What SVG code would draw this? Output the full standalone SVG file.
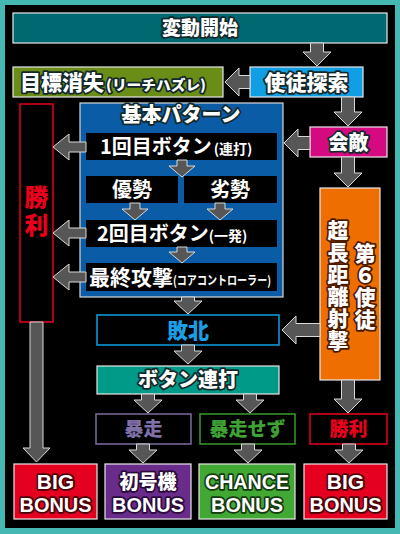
<svg xmlns="http://www.w3.org/2000/svg" width="400" height="534" viewBox="0 0 400 534">
<style>
.jp{font-family:"Noto Sans CJK JP","Noto Sans",sans-serif;font-weight:900;text-anchor:middle}
.en{font-family:"Liberation Sans",Arial,sans-serif;font-weight:700;text-anchor:middle}
.ol{fill:#fff;stroke:#13282a;stroke-width:3.5;stroke-linejoin:round;paint-order:stroke}
.w{fill:#fff;font-weight:700}
.box{stroke:#e8e8e8;stroke-width:1.2}
.row{fill:#000}
.vt{writing-mode:vertical-rl;letter-spacing:1px}
.arr{fill:#565656;stroke:#d8d8d8;stroke-width:1;stroke-linejoin:miter}
</style>
<rect x="0" y="0" width="400" height="534" fill="#45b8b4"/>
<rect x="5" y="5" width="390" height="523" fill="#000"/>

<g id="start">
<rect class="box" x="13" y="13" width="374" height="30" fill="#006870"/>
<text class="jp ol" x="200" y="35" font-size="19">変動開始</text>
</g>

<g id="lost">
<rect class="box" x="13" y="67" width="210" height="30" fill="#6a8d17"/>
<text class="jp ol" x="20" y="89.5" font-size="21" style="text-anchor:start">目標消失<tspan font-size="14" dx="2" textLength="100" lengthAdjust="spacingAndGlyphs">(リーチハズレ)</tspan></text>
</g>

<g id="search">
<rect class="box" x="250" y="67" width="113" height="30" fill="#109fe4"/>
<text class="jp ol" x="306.5" y="89.5" font-size="21">使徒探索</text>
</g>

<g id="basic">
<rect x="80" y="103" width="203" height="194" fill="#0b5ca6" stroke="#d8d8d8" stroke-width="1.2"/>
<text class="jp ol" x="181" y="122" font-size="20">基本パターン</text>
</g>

<g id="btn1">
<rect class="row" x="86" y="133" width="191" height="27"/>
<text class="jp w" x="100" y="154" font-size="20" style="text-anchor:start">1回目ボタン<tspan font-size="14" dx="2">(連打)</tspan></text>
</g>
<g id="yusei">
<rect class="row" x="86" y="176" width="92" height="27"/>
<text class="jp w" x="132" y="197" font-size="20">優勢</text>
</g>
<g id="ressei">
<rect class="row" x="184" y="176" width="93" height="27"/>
<text class="jp w" x="230" y="197" font-size="20">劣勢</text>
</g>
<g id="btn2">
<rect class="row" x="86" y="220" width="191" height="27"/>
<text class="jp w" x="97" y="241" font-size="20" style="text-anchor:start">2回目ボタン<tspan font-size="14">(一発)</tspan></text>
</g>
<g id="final">
<rect class="row" x="86" y="263" width="191" height="28"/>
<text class="jp w" x="89" y="285" font-size="21" style="text-anchor:start">最終攻撃<tspan font-size="12.5" textLength="98" lengthAdjust="spacingAndGlyphs">(コアコントローラー)</tspan></text>
</g>

<g id="win-left">
<rect x="20" y="104" width="33" height="218" fill="#000" stroke="#e8001c" stroke-width="1.5"/>
<text class="jp vt" x="36.5" y="213" font-size="24" fill="#e8001c" style="letter-spacing:4px">勝利</text>
</g>

<g id="encounter">
<rect class="box" x="310" y="127" width="77" height="30" fill="#d60a80"/>
<text class="jp ol" x="348.5" y="149.5" font-size="20">会敵</text>
</g>

<g id="sixth">
<rect class="box" x="320" y="188" width="60" height="192" fill="#ee6f00"/>
<text class="jp ol vt" x="338" y="286" font-size="21" style="stroke:#4a1a00">超長距離射撃</text>
<text class="jp ol vt" x="365" y="287" font-size="21" style="stroke:#4a1a00">第６使徒</text>
</g>

<g id="defeat">
<rect x="97" y="315" width="182" height="30" fill="#000" stroke="#109fe4" stroke-width="1.5"/>
<text class="jp" x="188" y="337.5" font-size="21" fill="#1a9fe4">敗北</text>
</g>

<g id="mash">
<rect class="box" x="97" y="366" width="182" height="28" fill="#009a89"/>
<text class="jp ol" x="188" y="387" font-size="20">ボタン連打</text>
</g>

<g id="berserk">
<rect x="96" y="414" width="95" height="30" fill="#000" stroke="#7c6c9e" stroke-width="1.5"/>
<text class="jp" x="143.5" y="436" font-size="19" fill="#7f70a8">暴走</text>
</g>
<g id="noberserk">
<rect x="200" y="414" width="95" height="30" fill="#000" stroke="#3a9a2c" stroke-width="1.5"/>
<text class="jp" x="247.5" y="436" font-size="19" fill="#3ea334">暴走せず</text>
</g>
<g id="win-right">
<rect x="310" y="414" width="77" height="30" fill="#000" stroke="#e8001c" stroke-width="1.5"/>
<text class="jp" x="348.5" y="436" font-size="19" fill="#e8001c">勝利</text>
</g>

<g id="big-left">
<rect class="box" x="14" y="464" width="83" height="55" fill="#e4001e"/>
<text class="en ol" x="55.5" y="489" font-size="21" style="stroke:#4a0008">BIG</text>
<text class="en ol" x="55.5" y="512" font-size="21" textLength="72" lengthAdjust="spacingAndGlyphs" style="stroke:#4a0008">BONUS</text>
</g>
<g id="unit01">
<rect class="box" x="105" y="464" width="86" height="55" fill="#6a2c8a"/>
<text class="jp ol" x="148" y="489" font-size="19" style="stroke:#2a0a3a">初号機</text>
<text class="en ol" x="148" y="512" font-size="21" textLength="72" lengthAdjust="spacingAndGlyphs" style="stroke:#2a0a3a">BONUS</text>
</g>
<g id="chance">
<rect class="box" x="199" y="464" width="96" height="55" fill="#42a834"/>
<text class="en ol" x="247" y="489" font-size="21" textLength="84" lengthAdjust="spacingAndGlyphs" style="stroke:#143a10">CHANCE</text>
<text class="en ol" x="247" y="512" font-size="21" textLength="72" lengthAdjust="spacingAndGlyphs" style="stroke:#143a10">BONUS</text>
</g>
<g id="big-right">
<rect class="box" x="304" y="464" width="83" height="55" fill="#e4001e"/>
<text class="en ol" x="345.5" y="489" font-size="21" style="stroke:#4a0008">BIG</text>
<text class="en ol" x="345.5" y="512" font-size="21" textLength="72" lengthAdjust="spacingAndGlyphs" style="stroke:#4a0008">BONUS</text>
</g>

<g id="connectors">
<polygon class="arr" points="310.5,43 323.5,43 323.5,52 331,52 317,66 303,52 310.5,52"/>
<polygon class="arr" points="250,75.5 239,75.5 239,68 225,82 239,96 239,88.5 250,88.5"/>
<polygon class="arr" points="341.5,97 354.5,97 354.5,112 362,112 348,126 334,112 341.5,112"/>
<polygon class="arr" points="310,136.5 298,136.5 298,129 284,143 298,157 298,149.5 310,149.5"/>
<polygon class="arr" points="341.5,157 354.5,157 354.5,173 362,173 348,187 334,173 341.5,173"/>
<polygon class="arr" points="320,323.5 296,323.5 296,316 282,330 296,344 296,336.5 320,336.5"/>
<polygon class="arr" points="341.5,380 354.5,380 354.5,399 362,399 348,413 334,399 341.5,399"/>
<polygon class="arr" points="181.5,297 194.5,297 194.5,301 202,301 188,314 174,301 181.5,301"/>
<polygon class="arr" points="181.5,345 194.5,345 194.5,351 202,351 188,364 174,351 181.5,351"/>
<polygon class="arr" points="141.5,394 154.5,394 154.5,400 162,400 148,413 134,400 141.5,400"/>
<polygon class="arr" points="243.5,394 256.5,394 256.5,400 264,400 250,413 236,400 243.5,400"/>
<polygon class="arr" points="136.5,444 149.5,444 149.5,450 157,450 143,463 129,450 136.5,450"/>
<polygon class="arr" points="241.5,444 254.5,444 254.5,450 262,450 248,463 234,450 241.5,450"/>
<polygon class="arr" points="342.5,444 355.5,444 355.5,450 363,450 349,463 335,450 342.5,450"/>
<polygon class="arr" points="30,322 43,322 43,448 50,448 36.5,462 23,448 30,448"/>
<polygon class="arr" points="86,142 69,142 69,134 53,147 69,160 69,152 86,152"/>
<polygon class="arr" points="86,228 69,228 69,220 53,233 69,246 69,238 86,238"/>
<polygon class="arr" points="86,272 69,272 69,264 53,277 69,290 69,282 86,282"/>
<polygon class="arr" points="177,160 187,160 187,166 195,166 182,177 169,166 177,166"/>
<polygon class="arr" points="130,203 140,203 140,209 148,209 135,220 122,209 130,209"/>
<polygon class="arr" points="215,203 225,203 225,209 233,209 220,220 207,209 215,209"/>
<polygon class="arr" points="177,247 187,247 187,252 195,252 182,263 169,252 177,252"/>
</g>
</svg>
